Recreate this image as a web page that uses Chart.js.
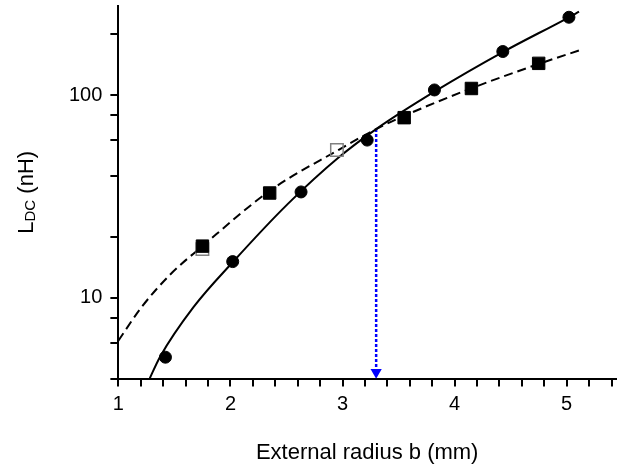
<!DOCTYPE html>
<html>
<head>
<meta charset="utf-8">
<script src="https://cdn.jsdelivr.net/npm/chart.js@4.4.1/dist/chart.umd.min.js"></script>
<style>
  html, body { margin: 0; padding: 0; background: #fff; }
  #wrap { width: 632px; height: 466px; }
</style>
</head>
<body>
<div id="wrap"><canvas id="chart"></canvas></div>
<script>
Chart.defaults.font.family = '"Liberation Sans", Arial, Helvetica, sans-serif';
Chart.defaults.color = '#000';

// measured points (filled circles)
const circle_x = [1.42, 2.02, 2.63, 3.22, 3.82, 4.43, 5.02];
const circle_y = [5.1, 15.1, 33.3, 60.0, 106, 164, 242];

// measured points (filled squares)
const square_x = [1.75, 2.35, 3.55, 4.15, 4.75];
const square_y = [18.0, 32.9, 77.4, 107.8, 143.4];

// open squares
const open_square_x = [1.75, 2.95];
const open_square_y = [17.4, 53.6];

// fitted curves
const solid_fit_x = [1.27, 1.37, 1.67, 2.03, 2.51, 2.97, 3.30, 3.82, 4.43, 5.02, 5.11];
const solid_fit_y = [3.9, 5.1, 9.0, 15.2, 29.0, 49.5, 68, 104, 163, 242, 258];

const dashed_fit_x = [1.0, 1.2, 1.46, 1.75, 2.36, 2.96, 3.30, 3.55, 4.15, 4.76, 5.11];
const dashed_fit_y = [6.15, 8.9, 13.0, 18.0, 34.0, 53.5, 68, 79, 108, 143, 166];

// blue arrow from the crossing down to the axis
const arrow_x = [3.30, 3.30];
const arrow_y = [68, 4.3];

const y_ticks = [4, 6, 8, 10, 20, 40, 60, 80, 100, 200];
const y_labelled = [10, 100];

const x_title = 'External radius b (mm)';

function toPoints(xs, ys) {
    return xs.map((x, i) => ({ x: x, y: ys[i] }));
}

// y title with subscript, drawn as canvas text
const yTitle = {
    id: 'yTitle',
    afterDraw(chart) {
        const ctx = chart.ctx;
        const area = chart.chartArea;
        const big = '22px "Liberation Sans", Arial, sans-serif';
        const small = '15px "Liberation Sans", Arial, sans-serif';
        ctx.save();
        ctx.fillStyle = '#000';
        ctx.textBaseline = 'alphabetic';
        ctx.font = big;
        const wL = ctx.measureText('L').width;
        const wRest = ctx.measureText(' (nH)').width;
        ctx.font = small;
        const wDC = ctx.measureText('DC').width;
        const total = wL + wDC + wRest;
        ctx.translate(33, (area.top + area.bottom) / 2);
        ctx.rotate(-Math.PI / 2);
        let x = -total / 2;
        ctx.font = big;
        ctx.fillText('L', x, 0);
        x += wL;
        ctx.font = small;
        ctx.fillText('DC', x, 2);
        x += wDC;
        ctx.font = big;
        ctx.fillText(' (nH)', x, 0);
        ctx.restore();
    }
};

const axisGrid = {
    drawOnChartArea: false,
    drawTicks: true,
    tickLength: 8,
    color: '#000',
    lineWidth: 2
};

new Chart(document.getElementById('chart'), {
    type: 'scatter',
    data: {
        datasets: [
            {
                label: 'circles',
                data: toPoints(circle_x, circle_y),
                pointStyle: 'circle',
                pointRadius: 6,
                backgroundColor: '#000',
                borderColor: '#000',
                borderWidth: 1,
                order: 0
            },
            {
                label: 'squares',
                data: toPoints(square_x, square_y),
                pointStyle: 'rect',
                pointRadius: 8.8,
                backgroundColor: '#000',
                borderColor: '#000',
                borderWidth: 1,
                order: 0
            },
            {
                label: 'open squares',
                data: toPoints(open_square_x, open_square_y),
                pointStyle: 'rect',
                pointRadius: 8.8,
                backgroundColor: 'rgba(255,255,255,0)',
                borderColor: '#808080',
                borderWidth: 1.5,
                order: 1
            },
            {
                label: 'fit solid',
                data: toPoints(solid_fit_x, solid_fit_y),
                showLine: true,
                pointRadius: 0,
                borderColor: '#000',
                borderWidth: 2,
                cubicInterpolationMode: 'monotone',
                order: 2
            },
            {
                label: 'fit dashed',
                data: toPoints(dashed_fit_x, dashed_fit_y),
                showLine: true,
                pointRadius: 0,
                borderColor: '#000',
                borderWidth: 2,
                borderDash: [9, 5],
                cubicInterpolationMode: 'monotone',
                order: 2
            },
            {
                label: 'arrow',
                data: toPoints(arrow_x, arrow_y),
                showLine: true,
                borderColor: '#0000ff',
                borderWidth: 2.5,
                borderDash: [3, 2],
                pointStyle: 'triangle',
                pointRotation: 180,
                pointRadius: [0, 6.5],
                pointBackgroundColor: '#0000ff',
                pointBorderColor: '#0000ff',
                pointBorderWidth: 0,
                order: 3
            }
        ]
    },
    options: {
        animation: false,
        responsive: true,
        maintainAspectRatio: false,
        devicePixelRatio: 1,
        layout: {
            autoPadding: false,
            padding: { left: 61, right: 16, top: 6, bottom: 0 }
        },
        plugins: {
            legend: { display: false },
            tooltip: { enabled: false }
        },
        scales: {
            x: {
                type: 'linear',
                min: 1,
                max: 5.44,
                ticks: {
                    stepSize: 0.2,
                    includeBounds: false,
                    autoSkip: false,
                    maxRotation: 0,
                    padding: 6,
                    font: { size: 20 },
                    callback: v => Math.abs(v - Math.round(v)) < 1e-6 ? String(Math.round(v)) : ''
                },
                grid: axisGrid,
                border: { display: true, color: '#000', width: 2 },
                title: {
                    display: true,
                    text: x_title,
                    font: { size: 22 },
                    padding: { top: 17, bottom: 0 }
                }
            },
            y: {
                type: 'logarithmic',
                min: 4,
                max: 275,
                afterBuildTicks: scale => {
                    scale.ticks = y_ticks.map(v => ({ value: v }));
                },
                // top tick has no label, so no room is needed above it
                afterFit: scale => {
                    scale.paddingTop = 0;
                    scale.paddingBottom = 0;
                },
                ticks: {
                    autoSkip: false,
                    padding: 8,
                    font: { size: 20 },
                    callback: v => y_labelled.includes(v) ? String(v) : ''
                },
                grid: axisGrid,
                border: { display: true, color: '#000', width: 2 }
            }
        }
    },
    plugins: [yTitle]
});
</script>
</body>
</html>
